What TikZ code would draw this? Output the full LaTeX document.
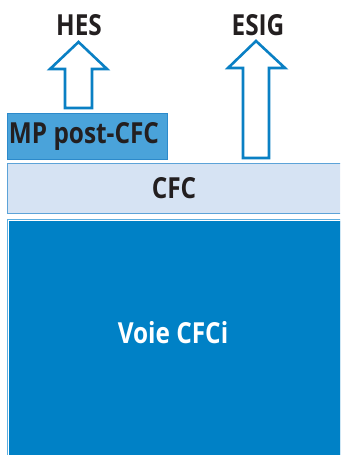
\documentclass[tikz,border=0pt]{standalone}
\usepackage{fontspec}
\setmainfont{Open Sans}[FakeStretch=0.84]
\definecolor{dark}{HTML}{231F20}
\definecolor{arrowblue}{HTML}{0A80C4}
\definecolor{mpfill}{HTML}{4AA3DA}
\definecolor{mpborder}{HTML}{2C8ACB}
\definecolor{cfcfill}{HTML}{D6E3F3}
\definecolor{cfcborder}{HTML}{5CA3D8}
\definecolor{voiefill}{HTML}{0081C6}
\definecolor{voieborder}{HTML}{5DAEE0}
\tikzset{
  lbl/.style={font=\fontsize{29}{32}\selectfont\bfseries, text=dark, inner sep=0pt},
  bigarrow/.style={draw=arrowblue, line width=2.6pt, fill=white, line join=miter},
}
\begin{document}
\begin{tikzpicture}[x=1pt,y=-1pt]
\useasboundingbox (0,0) rectangle (340,455);
\clip (0,0) rectangle (340,455);
% Voie CFCi box
\fill[voieborder] (6.5,218.5) rectangle (345,460);
\fill[white] (7.5,219.5) rectangle (345,460);
\fill[voiefill] (8.7,220.7) rectangle (345,460);
% CFC box
\draw[cfcborder, fill=cfcfill, line width=1pt] (7,163) rectangle (345,213);
% MP post-CFC box
\draw[mpborder, fill=mpfill, line width=1pt] (7,113) rectangle (167,159);
% arrows
\draw[bigarrow] (65,108) -- (65,69) -- (50,69) -- (78.5,42) -- (107,69) -- (92,69) -- (92,108) -- cycle;
\draw[bigarrow] (243,158) -- (243,68) -- (228,68) -- (256,41) -- (285,68) -- (269,68) -- (269,158) -- cycle;
% labels
\node[lbl] (hes) at (79,25) {HES};
\node[lbl] (esig) at (258,25) {ESIG};
\node[lbl] (mp) at (84,136) {MP post-CFC};
\node[lbl] (cfc) at (174,188) {CFC};
\node[lbl, text=white] (voie) at (173,333) {Voie CFCi};
\end{tikzpicture}
\end{document}
